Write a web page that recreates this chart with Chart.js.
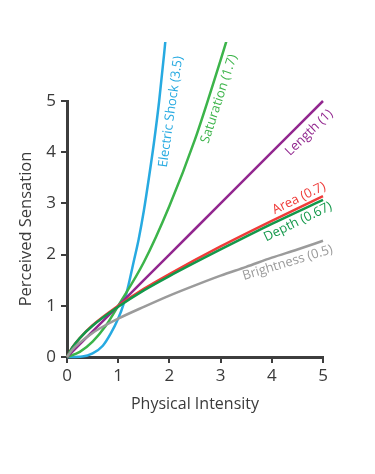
<!DOCTYPE html>
<html>
<head>
<meta charset="utf-8">
<script src="https://cdn.jsdelivr.net/npm/chart.js@4"></script>
<style>
  html, body { margin: 0; padding: 0; background: #fff; }
  #wrap { width: 375px; height: 474px; }
</style>
</head>
<body>
<div id="wrap"><canvas id="stevensChart" width="375" height="474"></canvas></div>
<script>
// values (physical intensity -> perceived sensation)
const shockX = [0, 0.3, 0.5, 0.7, 0.85, 1, 1.1, 1.2, 1.3, 1.4, 1.5, 1.6, 1.7, 1.8, 1.9, 2.0];
const shockY = [0, 0.01, 0.07, 0.22, 0.45, 0.75, 1.02, 1.4, 1.85, 2.3, 2.85, 3.5, 4.2, 5.0, 5.95, 7.0];

const saturationX = [0, 0.25, 0.5, 0.75, 1, 1.5, 2, 2.5, 3, 3.2];
const saturationY = [0, 0.1, 0.3, 0.6, 1.0, 1.85, 2.95, 4.25, 5.8, 6.45];

const lengthX = [0, 1, 2, 3, 4, 5];
const lengthY = [0, 1, 2, 3, 4, 5];

const areaX = [0, 0.1, 0.25, 0.5, 1, 1.5, 2, 3, 4, 5];
const areaY = [0, 0.18, 0.37, 0.62, 1.0, 1.33, 1.62, 2.16, 2.66, 3.14];

const depthX = [0, 0.1, 0.25, 0.5, 1, 1.5, 2, 3, 4, 5];
const depthY = [0, 0.18, 0.37, 0.61, 0.98, 1.3, 1.58, 2.1, 2.6, 3.07];

const brightX = [0, 0.1, 0.25, 0.5, 0.75, 1, 1.5, 2, 2.5, 3, 3.5, 4, 4.5, 5];
const brightY = [0, 0.14, 0.28, 0.47, 0.62, 0.75, 0.98, 1.2, 1.4, 1.59, 1.76, 1.94, 2.1, 2.27];

const seriesNames = ['Electric Shock (3.5)', 'Saturation (1.7)', 'Length (1)', 'Area (0.7)', 'Depth (0.67)', 'Brightness (0.5)'];
const tickValues = [0, 1, 2, 3, 4, 5];

const colors = ['#27aae1', '#3cb44a', '#92278f', '#ef3b39', '#13984a', '#9b9b9b'];

// where each curve name sits (data units) and its slant
const labelSpots = [
    { x: 2.03, y: 4.79, angle: -82 },
    { x: 2.97, y: 5.04, angle: -72 },
    { x: 4.73, y: 4.38, angle: -44 },
    { x: 4.53, y: 3.10, angle: -26 },
    { x: 4.51, y: 2.64, angle: -26 },
    { x: 4.31, y: 1.84, angle: -17 },
];

function pairUp(xs, ys) {
    return xs.map((v, i) => ({ x: v, y: ys[i] }));
}

const seriesData = [
    pairUp(shockX, shockY),
    pairUp(saturationX, saturationY),
    pairUp(lengthX, lengthY),
    pairUp(areaX, areaY),
    pairUp(depthX, depthY),
    pairUp(brightX, brightY),
];

const FONT = '"Open Sans", "Noto Sans", sans-serif';
const AXIS_COLOR = '#3d3d3d';

const curveLabels = {
    id: 'curveLabels',
    afterDatasetsDraw(chart) {
        const ctx = chart.ctx;
        const xs = chart.scales.x, ys = chart.scales.y;
        ctx.save();
        ctx.font = '13px ' + FONT;
        ctx.textAlign = 'center';
        ctx.textBaseline = 'middle';
        labelSpots.forEach((spot, i) => {
            ctx.save();
            ctx.translate(xs.getPixelForValue(spot.x), ys.getPixelForValue(spot.y));
            ctx.rotate(spot.angle * Math.PI / 180);
            ctx.fillStyle = colors[i];
            ctx.fillText(seriesNames[i], 0, 0);
            ctx.restore();
        });
        ctx.restore();
    }
};

const ctx = document.getElementById('stevensChart').getContext('2d');
new Chart(ctx, {
    type: 'line',
    data: {
        datasets: seriesData.map((pts, i) => ({
            label: seriesNames[i],
            data: pts,
            borderColor: colors[i],
            borderWidth: 2.5,
            pointRadius: 0,
            fill: false,
            cubicInterpolationMode: 'monotone',
            clip: { left: 4, right: 4, top: 59, bottom: 4 },
            order: 6 - i,
        })),
    },
    options: {
        responsive: false,
        animation: false,
        layout: { padding: { left: 12, right: 52, top: 101, bottom: 56 } },
        plugins: {
            legend: { display: false },
            tooltip: { enabled: false },
        },
        scales: {
            x: {
                type: 'linear',
                min: 0,
                max: 5,
                afterFit: (scale) => { scale.height = 61; },
                afterBuildTicks: (scale) => { scale.ticks = tickValues.map(v => ({ value: v })); },
                border: { display: true, color: AXIS_COLOR, width: 3 },
                grid: { drawOnChartArea: false, drawTicks: true, tickLength: 6, color: AXIS_COLOR, lineWidth: 2 },
                ticks: { color: '#3a3a3a', font: { family: FONT, size: 17 }, padding: 3, maxRotation: 0 },
                title: { display: true, text: 'Physical Intensity', color: '#3a3a3a', font: { family: FONT, size: 16 }, padding: { top: 4, bottom: 4 } },
            },
            y: {
                type: 'linear',
                min: 0,
                max: 5,
                afterFit: (scale) => { scale.width = 55; },
                afterBuildTicks: (scale) => { scale.ticks = tickValues.map(v => ({ value: v })); },
                border: { display: true, color: AXIS_COLOR, width: 3 },
                grid: { drawOnChartArea: false, drawTicks: true, tickLength: 6, color: AXIS_COLOR, lineWidth: 2 },
                ticks: { color: '#3a3a3a', font: { family: FONT, size: 17 }, padding: 5 },
                title: { display: true, text: 'Perceived Sensation', color: '#3a3a3a', font: { family: FONT, size: 16.5 }, padding: { top: 4, bottom: 4 } },
            },
        },
    },
    plugins: [curveLabels],
});
</script>
</body>
</html>
